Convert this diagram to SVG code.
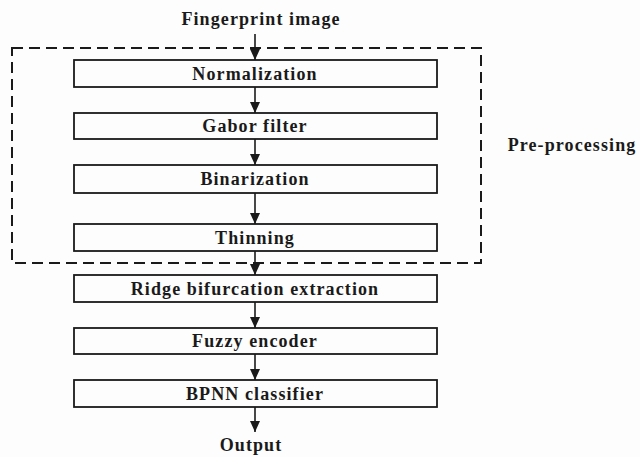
<svg xmlns="http://www.w3.org/2000/svg" width="640" height="457" viewBox="0 0 640 457">
<style>
.bg{fill:#fdfdfd}
.box{fill:#fdfdfd;stroke:#1a1a1a;stroke-width:1.8}
.t{font-family:"Liberation Serif","Times New Roman",serif;font-weight:bold;font-size:18px;letter-spacing:1.1px;fill:#1a1a1a;text-anchor:middle}
.c{stroke:#1a1a1a;stroke-width:1.6;fill:none}
.dash{fill:none;stroke:#1a1a1a;stroke-width:2;stroke-dasharray:11 6}
</style>
<defs>
<marker id="ah" markerWidth="11" markerHeight="10" refX="11" refY="5" orient="auto" markerUnits="userSpaceOnUse">
<path d="M0,0 L11,5 L0,10 Z" fill="#1a1a1a"/>
</marker>
</defs>
<rect class="bg" x="0" y="0" width="640" height="457"/>
<g id="preprocessing">
<rect class="dash" x="12" y="48" width="469" height="215"/>
<text class="t" x="572" y="151">Pre-processing</text>
</g>
<g id="input"><text class="t" x="261" y="25">Fingerprint image</text></g>
<g id="normalization"><rect class="box" x="74" y="60" width="363" height="27"/><text class="t" x="255" y="80">Normalization</text></g>
<g id="gabor"><rect class="box" x="74" y="113" width="363" height="26"/><text class="t" x="255" y="132">Gabor filter</text></g>
<g id="binarization"><rect class="box" x="74" y="165" width="363" height="28"/><text class="t" x="255" y="185">Binarization</text></g>
<g id="thinning"><rect class="box" x="74" y="224" width="363" height="27"/><text class="t" x="255" y="244">Thinning</text></g>
<g id="ridge"><rect class="box" x="74" y="275" width="363" height="27"/><text class="t" x="255" y="295">Ridge bifurcation extraction</text></g>
<g id="fuzzy"><rect class="box" x="74" y="328" width="363" height="26"/><text class="t" x="255" y="347">Fuzzy encoder</text></g>
<g id="bpnn"><rect class="box" x="74" y="380" width="363" height="27"/><text class="t" x="255" y="400">BPNN classifier</text></g>
<g id="output"><text class="t" x="251" y="451">Output</text></g>
<g id="connectors">
<line class="c" x1="255" y1="34" x2="255" y2="60" marker-end="url(#ah)"/>
<line class="c" x1="255" y1="87" x2="255" y2="113" marker-end="url(#ah)"/>
<line class="c" x1="255" y1="139" x2="255" y2="165" marker-end="url(#ah)"/>
<line class="c" x1="255" y1="193" x2="255" y2="224" marker-end="url(#ah)"/>
<line class="c" x1="255" y1="251" x2="255" y2="275" marker-end="url(#ah)"/>
<line class="c" x1="255" y1="302" x2="255" y2="328" marker-end="url(#ah)"/>
<line class="c" x1="255" y1="354" x2="255" y2="380" marker-end="url(#ah)"/>
<line class="c" x1="255" y1="407" x2="255" y2="432" marker-end="url(#ah)"/>
</g>
</svg>
